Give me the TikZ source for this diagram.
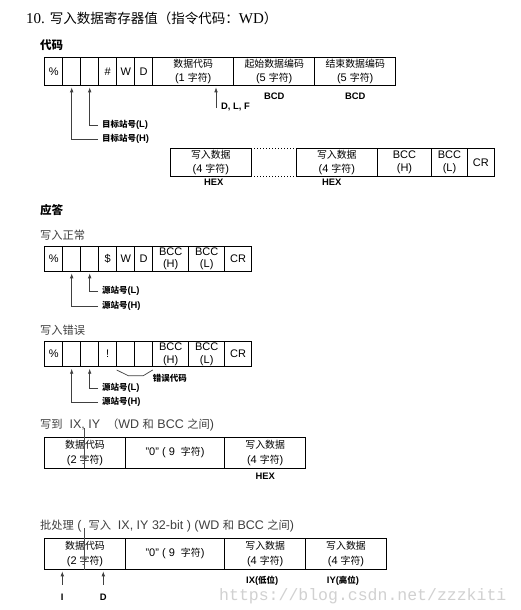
\documentclass[tikz,border=0pt]{standalone}
\usepackage{fontspec}
\setmainfont{Liberation Sans}
\newfontfamily\cjk[Scale=0.9]{Noto Sans CJK SC}
\newfontfamily\serifrm{Liberation Serif}
\newfontfamily\wmfont{Liberation Mono}
\usetikzlibrary{arrows.meta,positioning,calc}
\newcommand{\zh}[1]{{\cjk #1}}
\tikzset{
    fcell/.style={draw,line width=0.8pt,inner sep=0pt,outer sep=0pt,align=center,
      minimum height=28pt,font=\fontsize{11}{14.5}\selectfont},
    tinycell/.style={fcell,minimum width=18pt},
    bigcell/.style={fcell,minimum width=81pt},
    bcccell/.style={fcell,minimum width=36pt,font=\fontsize{11}{12.4}\selectfont},
    crcell/.style={fcell,minimum width=26.6pt},
    leader/.style={draw=black!75,line width=0.7pt},
    ptr/.style={leader,-{Latex[length=5pt,width=3.6pt]},shorten >=2pt},
    dotline/.style={dotted,line width=1pt},
    tag/.style={font=\fontsize{9.4}{11}\selectfont\bfseries,inner sep=1pt},
    sidetag/.style={tag,anchor=west,inner xsep=4pt},
    head/.style={anchor=west,inner sep=0pt,font=\fontsize{12.8}{14}\selectfont\bfseries},
    subhead/.style={anchor=west,inner sep=0pt,text=black!75,
      font=\fontsize{12.5}{14}\selectfont}
}
\begin{document}
\begin{tikzpicture}[x=1pt,y=-1pt]
  \useasboundingbox[fill=white] (0,0) rectangle (520,610);

  \node[anchor=west,inner sep=0pt,font=\serifrm\fontsize{15}{17}\selectfont] (title) at (26,18)
    {10. \zh{写入数据寄存器值（指令代码：}WD\zh{）}};

  % command frame
  \node[head] (hcode) at (40,45) {\zh{代码}};
  \node[tinycell,anchor=north west] (c1) at (44.7,57.3) {\%};
  \node[tinycell,right=0pt of c1] (c2) {};
  \node[tinycell,right=0pt of c2] (c3) {};
  \node[tinycell,right=0pt of c3] (c4) {\#};
  \node[tinycell,right=0pt of c4] (c5) {W};
  \node[tinycell,right=0pt of c5] (c6) {D};
  \node[bigcell,right=0pt of c6] (c7) {\zh{数据代码}\\(1 \zh{字符})};
  \node[bigcell,right=0pt of c7] (c8) {\zh{起始数据编码}\\(5 \zh{字符})};
  \node[bigcell,right=0pt of c8] (c9) {\zh{结束数据编码}\\(5 \zh{字符})};
  \node[tag,below=6pt of c8] {BCD};
  \node[tag,below=6pt of c9] {BCD};

  \coordinate (dlfend) at (216,108);
  \node[tag,anchor=west] (dlf) at (220,106.5) {D, L, F};
  \draw[ptr] (dlfend) -- (dlfend |- c7.south);

  \node[sidetag] (tL) at (98,125) {\zh{目标站号}(L)};
  \node[sidetag] (tH) at (98,139) {\zh{目标站号}(H)};
  \draw[ptr] (tL.west) -| (c3.south);
  \draw[ptr] (tH.west) -| (c2.south);

  \node[bigcell,anchor=north west] (b1) at (170.3,148.3) {\zh{写入数据}\\(4 \zh{字符})};
  \node[bigcell,anchor=north west] (b2) at (296.3,148.3) {\zh{写入数据}\\(4 \zh{字符})};
  \node[bcccell,minimum width=54.4pt,right=0pt of b2] (b3) {BCC\\(H)};
  \node[bcccell,minimum width=35.6pt,right=0pt of b3] (b4) {BCC\\(L)};
  \node[crcell,minimum width=27pt,right=0pt of b4] (b5) {CR};
  \draw[dotline] (b1.north east) -- (b2.north west);
  \draw[dotline] (b1.south east) -- (b2.south west);
  \node[tag,below=2pt of b1,xshift=3pt] {HEX};
  \node[tag,below=2pt of b2,xshift=-5pt] {HEX};

  % response: normal
  \node[head] (hresp) at (40,210) {\zh{应答}};
  \node[subhead] (hok) at (40,235) {\zh{写入正常}};
  \node[tinycell,minimum height=24.6pt,anchor=north west] (d1) at (44.7,246.7) {\%};
  \node[tinycell,minimum height=24.6pt,right=0pt of d1] (d2) {};
  \node[tinycell,minimum height=24.6pt,right=0pt of d2] (d3) {};
  \node[tinycell,minimum height=24.6pt,right=0pt of d3] (d4) {\$};
  \node[tinycell,minimum height=24.6pt,right=0pt of d4] (d5) {W};
  \node[tinycell,minimum height=24.6pt,right=0pt of d5] (d6) {D};
  \node[bcccell,minimum height=24.6pt,right=0pt of d6] (d7) {BCC\\(H)};
  \node[bcccell,minimum height=24.6pt,right=0pt of d7] (d8) {BCC\\(L)};
  \node[crcell,minimum height=24.6pt,right=0pt of d8] (d9) {CR};
  \node[sidetag] (sL) at (98,291) {\zh{源站号}(L)};
  \node[sidetag] (sH) at (98,306) {\zh{源站号}(H)};
  \draw[ptr] (sL.west) -| (d3.south);
  \draw[ptr] (sH.west) -| (d2.south);

  % response: error
  \node[subhead] (herr) at (40,330) {\zh{写入错误}};
  \node[tinycell,minimum height=25pt,anchor=north west] (e1) at (44.7,341.7) {\%};
  \node[tinycell,minimum height=25pt,right=0pt of e1] (e2) {};
  \node[tinycell,minimum height=25pt,right=0pt of e2] (e3) {};
  \node[tinycell,minimum height=25pt,right=0pt of e3] (e4) {!};
  \node[tinycell,minimum height=25pt,right=0pt of e4] (e5) {};
  \node[tinycell,minimum height=25pt,right=0pt of e5] (e6) {};
  \node[bcccell,minimum height=25pt,right=0pt of e6] (e7) {BCC\\(H)};
  \node[bcccell,minimum height=25pt,right=0pt of e7] (e8) {BCC\\(L)};
  \node[crcell,minimum height=25pt,right=0pt of e8] (e9) {CR};
  \draw[leader] ($(e5.south west)+(0,3.3)$) -- ++(11.6,5.7)
    -- ($(e6.south east)+(-9.4,9)$) -- ($(e6.south east)+(0,3.3)$);
  \node[tag,anchor=west,inner sep=0pt] (errcode) at ($(e6.south east)+(0,11.6)$) {\zh{错误代码}};
  \node[sidetag] (rL) at (98,388.3) {\zh{源站号}(L)};
  \node[sidetag] (rH) at (98,402.3) {\zh{源站号}(H)};
  \draw[ptr] (rL.west) -| (e3.south);
  \draw[ptr] (rH.west) -| (e2.south);

  % write IX, IY
  \node[subhead] (hix) at (40,425) {\zh{写到}\ \ IX, IY\ \ \zh{（}WD \zh{和} BCC \zh{之间})};
  \node[fcell,minimum width=80.6pt,minimum height=31pt,anchor=north west] (f1) at (44.7,437.3)
    {\zh{数据代码}\\(2 \zh{字符})};
  \node[fcell,minimum width=99.4pt,minimum height=31pt,right=0pt of f1] (f2) {"0" ( 9\ \ \zh{字符})};
  \node[fcell,minimum width=81pt,minimum height=31pt,right=0pt of f2] (f3) {\zh{写入数据}\\(4 \zh{字符})};
  \node[tag,below=4pt of f3] {HEX};
  \draw[black!70,line width=0.5pt] (84,428) -- (84,468);

  % batch
  \node[subhead] (hbatch) at (40,526)
    {\zh{批处理}\ (\ \ \zh{写入}\ \ IX, IY 32-bit ) (WD \zh{和} BCC \zh{之间})};
  \node[fcell,minimum width=80.6pt,minimum height=31pt,anchor=north west] (g1) at (44.7,538.3)
    {\zh{数据代码}\\(2 \zh{字符})};
  \node[fcell,minimum width=99.4pt,minimum height=31pt,right=0pt of g1] (g2) {"0" ( 9\ \ \zh{字符})};
  \node[fcell,minimum width=81pt,minimum height=31pt,right=0pt of g2] (g3) {\zh{写入数据}\\(4 \zh{字符})};
  \node[fcell,minimum width=80.6pt,minimum height=31pt,right=0pt of g3] (g4) {\zh{写入数据}\\(4 \zh{字符})};
  \node[tag,below=5.5pt of g3,xshift=-3pt] {IX(\zh{低位})};
  \node[tag,below=5.5pt of g4,xshift=-3pt] {IY(\zh{高位})};
  \node[tag] (li) at (62.3,597) {I};
  \node[tag] (ld) at (103.3,597) {D};
  \draw[ptr] ($(li.north)+(0,-8)$) -- (li |- g1.south);
  \draw[ptr] ($(ld.north)+(0,-8)$) -- (ld |- g1.south);
  \draw[black!70,line width=0.5pt] (84.3,528) -- (84.3,570);

  \node[anchor=west,inner sep=0pt,text=black!18,font=\wmfont\fontsize{16.5}{18}\selectfont]
    (mark) at (219,596) {https://blog.csdn.net/zzzkiti};
\end{tikzpicture}
\end{document}
